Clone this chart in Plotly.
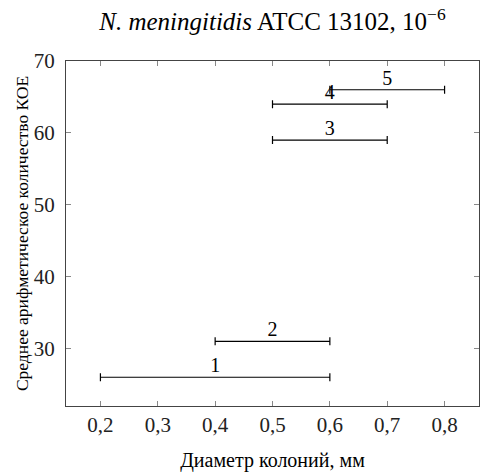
import plotly.graph_objects as go

labels = ["1", "2", "3", "4", "5"]
x_low = [0.2, 0.4, 0.5, 0.5, 0.6]
x_high = [0.6, 0.6, 0.7, 0.7, 0.8]
y_vals = [26, 31, 59, 64, 66]
x_ticks = [0.2, 0.3, 0.4, 0.5, 0.6, 0.7, 0.8]
x_tick_text = ["0,2", "0,3", "0,4", "0,5", "0,6", "0,7", "0,8"]
y_ticks = [30, 40, 50, 60, 70]

x_mid = [(a + b) / 2 for a, b in zip(x_low, x_high)]
x_err = [(b - a) / 2 for a, b in zip(x_low, x_high)]

FONT = "Liberation Serif, Times New Roman, serif"

fig = go.Figure()
fig.add_trace(go.Scatter(
    x=x_mid, y=y_vals, mode="lines",
    line=dict(width=0, color="rgba(0,0,0,0)"),
    error_x=dict(type="data", array=x_err, visible=True, color="black",
                 thickness=1.2, width=4),
    showlegend=False, hoverinfo="skip",
))
fig.add_trace(go.Scatter(
    x=x_mid, y=y_vals, mode="text", text=labels,
    textposition="top center",
    textfont=dict(family=FONT, size=20, color="black"),
    showlegend=False, hoverinfo="skip",
))

axis_common = dict(
    showgrid=False, zeroline=False, showline=True, mirror="ticks",
    linecolor="#444", linewidth=1, ticks="inside", tickcolor="#888",
    ticklen=5, tickfont=dict(family=FONT, size=21, color="#222"),
    automargin=False,
)

fig.update_layout(
    width=480, height=476,
    margin=dict(l=66, r=1, t=61, b=70, autoexpand=False),
    paper_bgcolor="white", plot_bgcolor="white",
    title=dict(
        text="<i>N. meningitidis</i> ATCC 13102, 10<sup>−6</sup>",
        x=(66 + 479) / 2 / 480, xanchor="center", y=0.955, yanchor="middle",
        font=dict(family=FONT, size=25, color="black"),
    ),
    xaxis=dict(range=[0.14, 0.86], tickvals=x_ticks, ticktext=x_tick_text,
               ticklabelstandoff=0,
               title=dict(text="Диаметр колоний, мм", standoff=16,
                          font=dict(family=FONT, size=20, color="black")),
               **axis_common),
    yaxis=dict(range=[22, 70], tickvals=y_ticks, ticklabelstandoff=6,
               title=dict(text="Среднее арифметическое количество КОЕ", standoff=0,
                          font=dict(family=FONT, size=17.5, color="black")),
               **axis_common),
)

fig.write_html(
    "out.html",
    config={"displayModeBar": False},
    post_script="document.body.style.margin='0';document.body.style.overflow='hidden';",
)
